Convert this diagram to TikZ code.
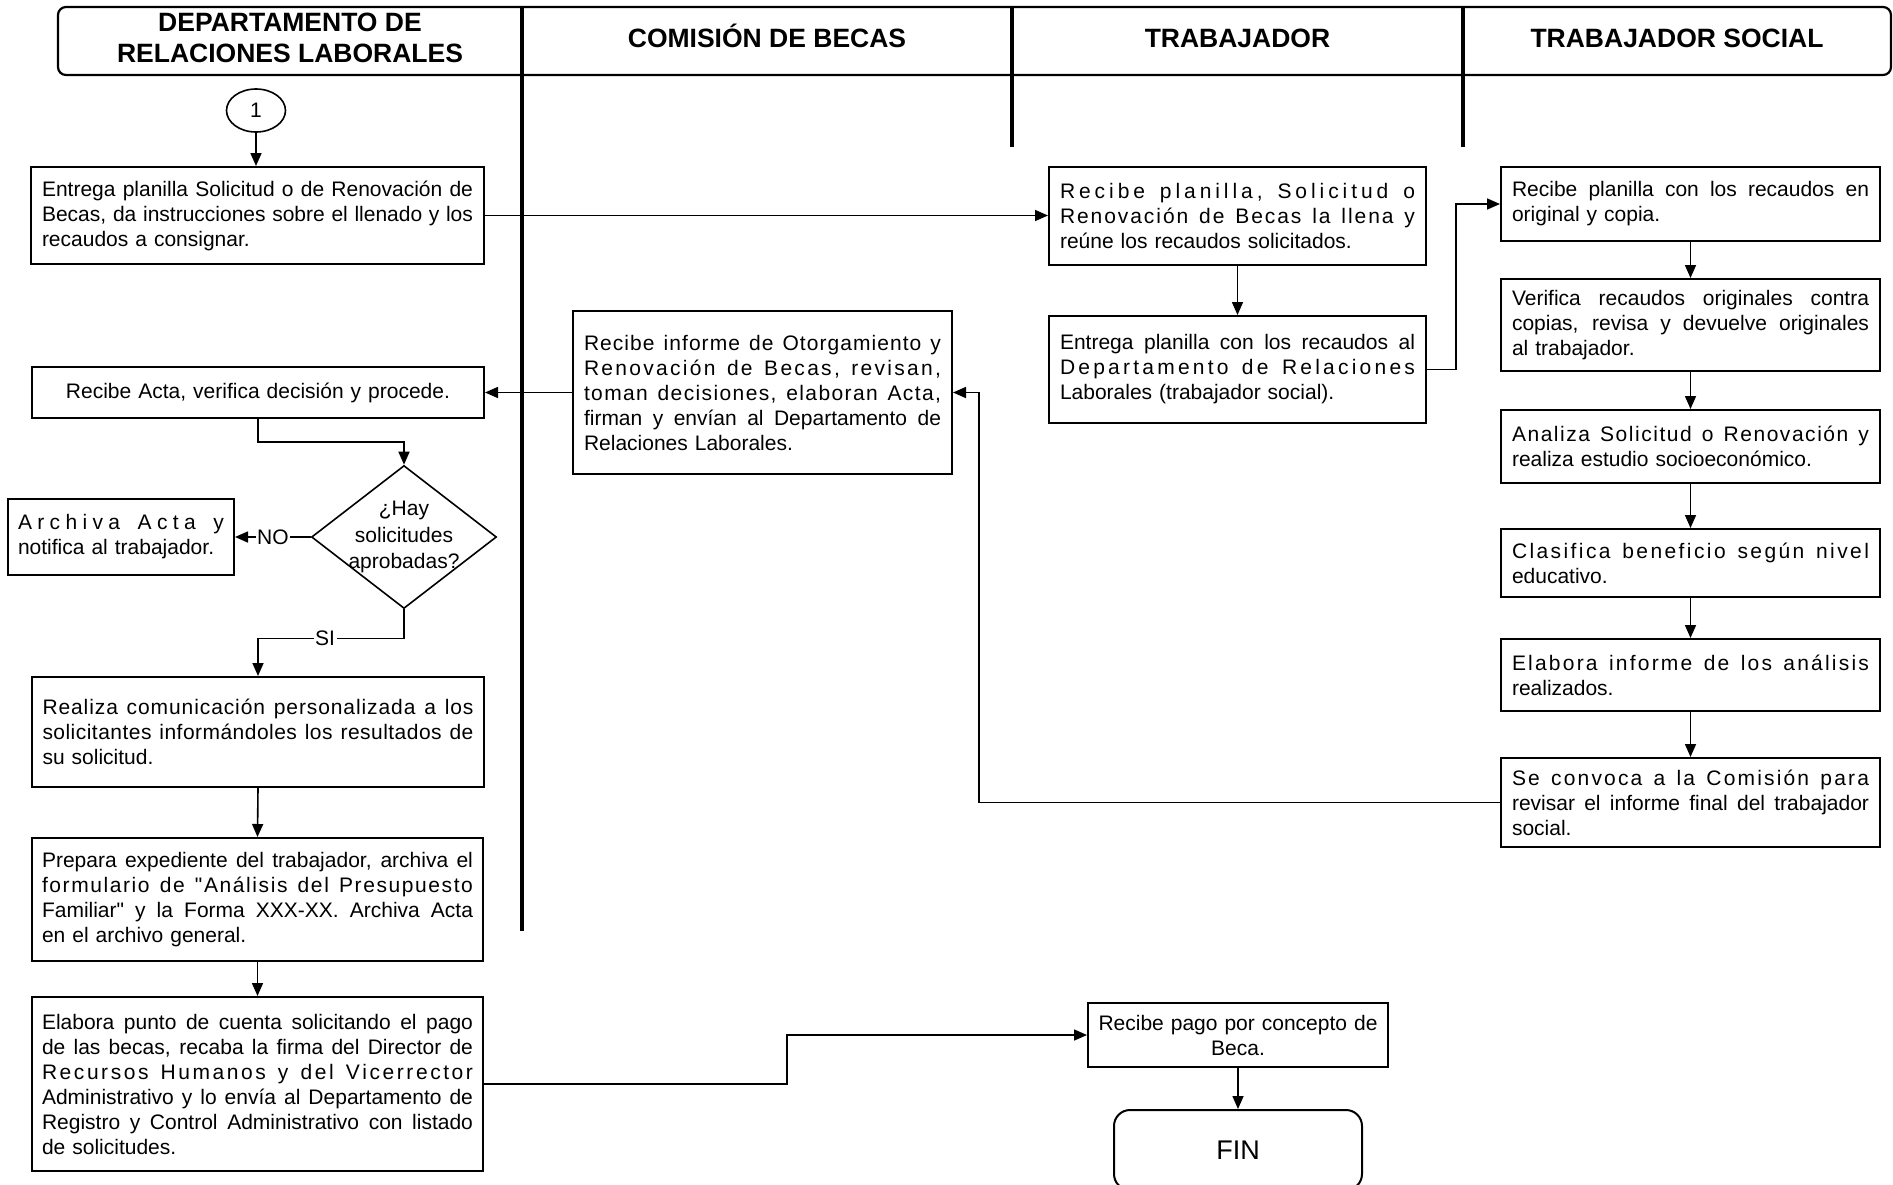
\documentclass[tikz,border=0pt]{standalone}
\usepackage{fontspec}
\setmainfont{Liberation Sans}
\newfontfamily\plainfam{Liberation Sans}
\usetikzlibrary{arrows.meta,shapes.geometric,calc}
\ExplSyntaxOn
\NewDocumentCommand\lsp{m}{\leavevmode\hbox to \linewidth{\str_map_inline:nn{#1}{##1\hfil}\unskip}}
\ExplSyntaxOff
\NewDocumentCommand\jl{m}{\leavevmode\hbox to \linewidth{\spaceskip=0pt\xspaceskip=0pt #1}}
\newcommand\bodyfont{\plainfam\fontsize{21}{25}\selectfont}
\newcommand\hdrfont{\bfseries\fontsize{26.5}{31}\selectfont}
\tikzset{
  box/.style={draw, rectangle, line width=2pt, inner xsep=11pt, inner ysep=0pt, align=left, font=\bodyfont},
  arr/.style={line width=1.6pt, -{Triangle[length=13pt,width=11pt]}},
  lane/.style={line width=3.3pt},
  lbl/.style={fill=white, inner sep=1.5pt, font=\bodyfont},
  hdrtext/.style={font=\hdrfont, align=center, inner sep=0pt},
}
\begin{document}
\begin{tikzpicture}[x=1pt,y=-1pt]
\useasboundingbox (0,0) rectangle (1893,1184);
\clip (0,0) rectangle (1893,1184);
% header
\node[draw, rectangle, rounded corners=8pt, line width=2.2pt, minimum width=1833, minimum height=68, inner sep=0pt] (hdr) at (974.5,41) {};
\node[hdrtext] (h1) at (290,37.5) {DEPARTAMENTO DE\\RELACIONES LABORALES};
\node[hdrtext, anchor=base] (h2) at (767,47) {COMISIÓN DE BECAS};
\node[hdrtext, anchor=base] (h3) at (1237.5,47) {TRABAJADOR};
\node[hdrtext, anchor=base] (h4) at (1677,47) {TRABAJADOR SOCIAL};
\coordinate (d1t) at (522,7); \coordinate (d1b) at (522,931);
\coordinate (d2t) at (1012,7); \coordinate (d2b) at (1012,147);
\coordinate (d3t) at (1463,7); \coordinate (d3b) at (1463,147);
\draw[lane] (d1t) -- (d1b);
\draw[lane] (d2t) -- (d2b);
\draw[lane] (d3t) -- (d3b);

% start connector
\node[draw, ellipse, line width=1.6pt, minimum width=59, minimum height=43, inner sep=0pt, font=\bodyfont] (c1) at (256,110.5) {1};

% left lane
\node[box, minimum width=453, text width=431, minimum height=97] (A) at (257.5,215.5)
 {\jl{Entrega planilla Solicitud o de Renovación de}\\\jl{Becas, da instrucciones sobre el llenado y los}\\recaudos a consignar.};
\node[box, align=center, minimum width=452, text width=430, minimum height=51] (R) at (258,392.5)
 {Recibe Acta, verifica decisión y procede.};
\node[draw, diamond, line width=1.6pt, minimum width=185, minimum height=143, inner sep=0pt] (Q) at (404,537) {};
\node[font=\plainfam\fontsize{21}{26.5}\selectfont, align=center, inner sep=0pt] (QT) at (404,537) {¿Hay\\solicitudes\\aprobadas?};
\node[box, inner xsep=10pt, minimum width=226, text width=206, minimum height=76] (AR) at (121,537)
 {\lsp{Archiva Acta y}\\notifica al trabajador.};
\node[box, inner xsep=10.5pt, minimum width=452, text width=431, minimum height=110] (RE) at (258,732)
 {\lsp{Realiza comunicación personalizada a los}\\\lsp{solicitantes informándoles los resultados de}\\su solicitud.};
\node[box, inner xsep=10pt, minimum width=451, text width=431, minimum height=123] (P) at (257.5,899.5)
 {\jl{Prepara expediente del trabajador, archiva el}\\\lsp{formulario de "Análisis del Presupuesto}\\\jl{Familiar" y la Forma XXX-XX. Archiva Acta}\\en el archivo general.};
\node[box, inner xsep=10pt, minimum width=451, text width=431, minimum height=174] (EP) at (257.5,1084)
 {\jl{Elabora punto de cuenta solicitando el pago}\\\jl{de las becas, recaba la firma del Director de}\\\lsp{Recursos Humanos y del Vicerrector}\\\jl{Administrativo y lo envía al Departamento de}\\\jl{Registro y Control Administrativo con listado}\\de solicitudes.};

% comision
\node[box, minimum width=379, text width=357, minimum height=163] (CB) at (762.5,392.5)
 {\lsp{Recibe informe de Otorgamiento y}\\\lsp{Renovación de Becas, revisan,}\\\lsp{toman decisiones, elaboran Acta,}\\\jl{firman y envían al Departamento de}\\Relaciones Laborales.};

% trabajador
\node[box, minimum width=377, text width=355, minimum height=98] (B) at (1237.5,216)
 {\lsp{Recibe planilla, Solicitud o}\\\lsp{Renovación de Becas la llena y}\\reúne los recaudos solicitados.};
\node[box, minimum width=377, text width=355, minimum height=107] (C) at (1237.5,369.5)
 {\jl{Entrega planilla con los recaudos al}\\\lsp{Departamento de Relaciones}\\Laborales (trabajador social).};
\node[box, align=center, inner xsep=5pt, minimum width=300, text width=290, minimum height=64] (RP) at (1238,1035)
 {Recibe pago por concepto de\\Beca.};
\node[draw, rectangle, rounded corners=16pt, line width=2pt, minimum width=248, minimum height=80, inner sep=0pt, font=\plainfam\fontsize{27}{30}\selectfont] (FIN) at (1238,1150) {FIN};

% trabajador social
\node[box, minimum width=379, text width=357, minimum height=74] (D) at (1690.5,204)
 {\jl{Recibe planilla con los recaudos en}\\original y copia.};
\node[box, minimum width=379, text width=357, minimum height=92] (E) at (1690.5,325)
 {\jl{Verifica recaudos originales contra}\\\jl{copias, revisa y devuelve originales}\\al trabajador.};
\node[box, minimum width=379, text width=357, minimum height=73] (F) at (1690.5,446.5)
 {\lsp{Analiza Solicitud o Renovación y}\\realiza estudio socioeconómico.};
\node[box, minimum width=379, text width=357, minimum height=68] (G) at (1690.5,563)
 {\lsp{Clasifica beneficio según nivel}\\educativo.};
\node[box, minimum width=379, text width=357, minimum height=72] (H) at (1690.5,675)
 {\lsp{Elabora informe de los análisis}\\realizados.};
\node[box, minimum width=379, text width=357, minimum height=89] (I) at (1690.5,802.5)
 {\lsp{Se convoca a la Comisión para}\\\jl{revisar el informe final del trabajador}\\social.};

% connectors
\draw[arr] (c1.south) -- (c1.south |- A.north);
\draw[arr] (A.east) -- (A.east -| B.west);
\draw[arr] (B.south) -- (C.north);
\draw[arr] (C.east) -- ++(29,0) |- (D.west);
\draw[arr] (D.south) -- (E.north);
\draw[arr] (E.south) -- (F.north);
\draw[arr] (F.south) -- (G.north);
\draw[arr] (G.south) -- (H.north);
\draw[arr] (H.south) -- (I.north);
\draw[arr] (I.west) -- ++(-521,0) |- (CB.east);
\draw[arr] (CB.west) -- (R.east);
\draw[arr] (R.south) -- ++(0,23) -| (Q.north);
\draw[arr] (Q.west) -- node[lbl] (no) {NO} (AR.east);
\draw[arr] (Q.south) -- ++(0,29) -| node[lbl, pos=0.27] (si) {SI} (RE.north);
\draw[arr] (RE.south) -- (P.north);
\draw[arr] (P.south) -- (EP.north);
\draw[arr] (EP.east) -- ++(303,0) |- (RP.west);
\draw[arr] (RP.south) -- (FIN.north);
\end{tikzpicture}
\end{document}
